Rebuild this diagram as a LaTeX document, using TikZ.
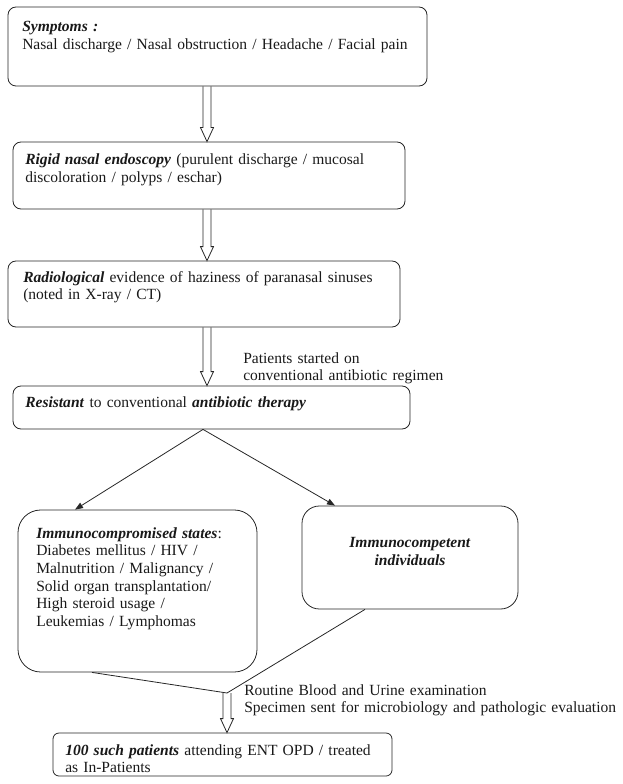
\documentclass[tikz,border=0pt]{standalone}
\usepackage{fontspec}
\setmainfont{Liberation Serif}
\usetikzlibrary{fit,calc,arrows.meta}
\newcommand\hollowarr[2]{%
  \draw[harrow] ($(#1)+(-4,0)$) -- ($(#2)+(-4,-14)$) -- ($(#2)+(-6.5,-14)$) -- (#2)
    -- ($(#2)+(6.5,-14)$) -- ($(#2)+(4,-14)$) -- ($(#1)+(4,0)$);}
\newcommand\bi[1]{\textbf{\textit{#1}}}
\begin{document}
\begin{tikzpicture}[x=0.75pt,y=-0.75pt,
  font=\fontsize{11.65}{13.3}\selectfont,
  box/.style={draw=black!85, line width=0.6pt, rounded corners=#1, inner sep=0pt},
  box/.default=6pt,
  txt/.style={inner sep=0pt, anchor=base west, align=left, text width=#1, text=black!90},
  txt/.default=380pt,
  harrow/.style={draw=black!85, line width=0.6pt, line join=miter},
  link/.style={draw=black!85, line width=0.6pt},
  tip/.style={link, -{Triangle[length=6pt,width=4.5pt]}}]
\useasboundingbox (0,0) rectangle (622,784);

% boxes
\node[box=6pt, fit={(8,7) (427,86)}] (b1) {};
\node[box=6pt, fit={(13,142) (405,209)}] (b2) {};
\node[box=6pt, fit={(8,261) (400,327)}] (b3) {};
\node[box=6pt, fit={(13,386) (410,429)}] (b4) {};
\node[box=17pt, fit={(18,510) (257,672)}] (b5) {};
\node[box=13pt, fit={(302,506) (518,609)}] (b6) {};
\node[box=4.5pt, fit={(53,733) (392,776)}] (b7) {};

% texts
\node[txt] (t1) at (22,32) {\bi{Symptoms :}\\Nasal discharge / Nasal obstruction / Headache / Facial pain};
\node[txt] (t2) at (25,165) {\bi{Rigid nasal endoscopy} (purulent discharge / mucosal\\discoloration / polyps / eschar)};
\node[txt] (t3) at (23,282) {\bi{Radiological} evidence of haziness of paranasal sinuses\\(noted in X-ray / CT)};
\node[txt] (t4) at (25,407) {\bi{Resistant} to conventional \bi{antibiotic therapy}};
\node[txt=200pt] (t5) at (36,538) {\bi{Immunocompromised states}:\\Diabetes mellitus / HIV /\\Malnutrition / Malignancy /\\Solid organ transplantation/\\High steroid usage /\\Leukemias / Lymphomas};
\node[inner sep=0pt, anchor=base, align=center, text=black!90] (t6) at (410,565) {\bi{Immunocompetent}\\\bi{individuals}};
\node[txt] (t7) at (65,755) {\bi{100 such patients} attending ENT OPD / treated\\as In-Patients};
\node[txt] (l1) at (243,363) {Patients started on\\conventional antibiotic regimen};
\node[txt=400pt] (l2) at (244,695) {Routine Blood and Urine examination\\Specimen sent for microbiology and pathologic evaluation};

% hollow arrows
\coordinate (ax) at (207,0);
\coordinate (a1s) at (b1.south -| ax);
\coordinate (a1e) at (b2.north -| ax);
\coordinate (a2s) at (b2.south -| ax);
\coordinate (a2e) at (b3.north -| ax);
\coordinate (a3s) at (b3.south -| ax);
\coordinate (a3e) at (b4.north -| ax);
\hollowarr{a1s}{a1e}
\hollowarr{a2s}{a2e}
\hollowarr{a3s}{a3e}

% branching
\coordinate (apex) at (b4.south -| 203,0);
\draw[tip] (apex) -- (b5.north -| 75,0);
\draw[tip] (apex) -- (b6.north -| 335,0);

% merging
\coordinate (j) at (227,693);
\draw[link] (b5.south -| 92,0) -- (j) -- (b6.south -| 365,0);
\coordinate (a4e) at (b7.north -| j);
\hollowarr{j}{a4e}
\end{tikzpicture}
\end{document}
